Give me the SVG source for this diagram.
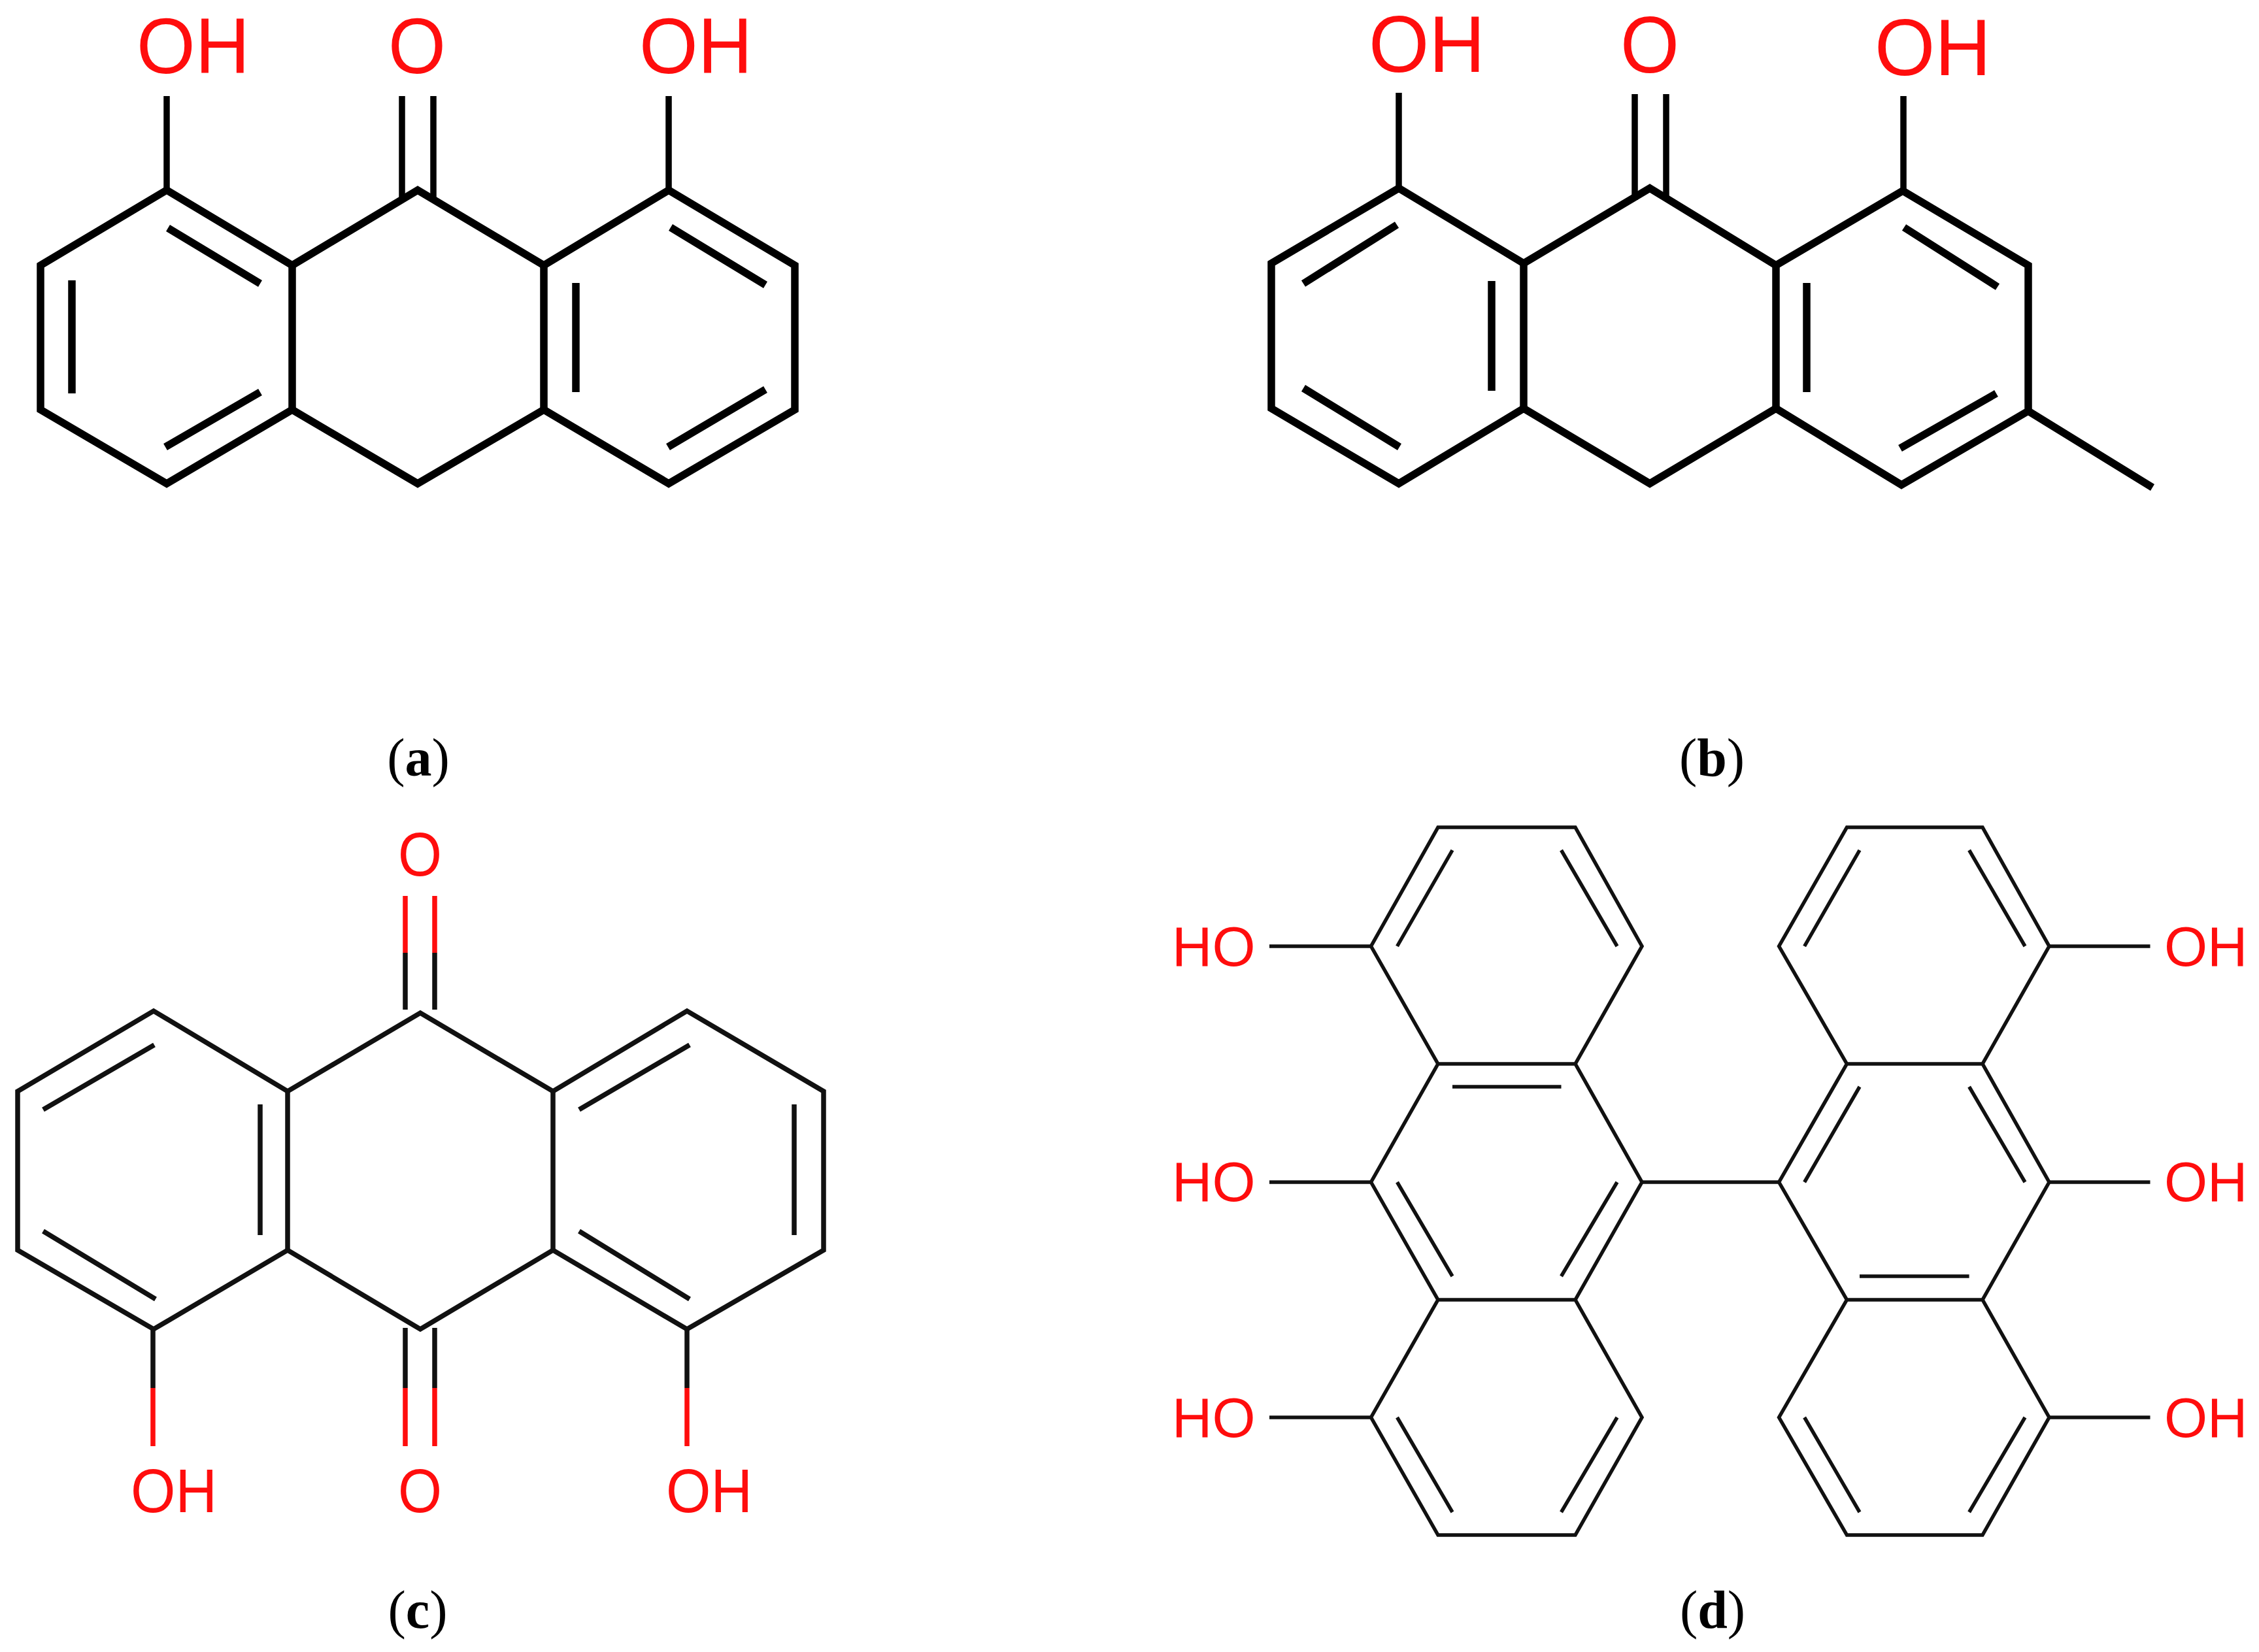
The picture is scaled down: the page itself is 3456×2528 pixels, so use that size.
<svg xmlns="http://www.w3.org/2000/svg" width="3456" height="2528" viewBox="0 0 3456 2528">
<style>
.b{fill:none;stroke:#000;stroke-linejoin:miter;stroke-linecap:butt}
.t{stroke-width:11.5}
.m{stroke-width:7.5;stroke:#111}
.s{stroke-width:5.5;stroke:#111}
.r{stroke:#ff0d0d}
.l{fill:#ff0d0d;font-family:"Liberation Sans",Arial,sans-serif}
.c{font-family:"Liberation Serif","Times New Roman",serif;font-size:82px;fill:#000;text-anchor:middle}
.c tspan{font-weight:bold}
</style>
<rect width="3456" height="2528" fill="#fff"/>
<g id="connectors">
<g id="bonds-a" class="b t">
<path d="M62 406L255 291L447 406L639 291L832 406L1023 291L1216 406V627L1023 740L832 627L639 740L447 627L255 740L62 627Z"/>
<path d="M447 406V627M832 406V627"/>
<path d="M110 429V602M257 349L398 434M398 600L253 684M881 433V600M1026 348L1171 436M1171 596L1022 684"/>
<path style="stroke-width:9.500" d="M255 147V291M1023 147V291M615 147V306M663 147V306"/>
</g>
<g id="bonds-b" class="b t">
<path d="M1945 403L2140 288L2331 403L2524 288L2717 406L2911 292L3103 406V629L2909 742L2717 625L2524 740L2331 625L2140 740L1945 625Z"/>
<path d="M2331 403V625M2717 406V625M3103 629L3293 746"/>
<path d="M2137 344L1994 434M2282 430V598M1994 594L2141 684M2764 433V600M2913 348L3056 439M3054 602L2907 686"/>
<path style="stroke-width:9.500" d="M2140 142V288M2912 147V292M2501 144V306M2549 144V306"/>
</g>
<g id="bonds-c" class="b m">
<path d="M27 1670L235 1547L440 1670L643 1550L846 1670L1051 1547L1260 1670V1913L1051 2034L846 1913L643 2034L440 1913L235 2034L27 1913Z"/>
<path d="M440 1670V1913M846 1670V1913"/>
<path d="M236 1599L66 1698M398 1690V1890M66 1884L238 1988M1055 1599L886 1698M886 1884L1055 1988M1215 1690V1890"/>
<path d="M620 1458V1545M665 1458V1545M620 2032V2124M665 2032V2124M234 2034V2124M1051 2034V2124"/>
<path class="r" d="M620 1371V1458M665 1371V1458M620 2124V2213M665 2124V2213M234 2124V2213M1051 2124V2213"/>
</g>
<g id="bonds-d" class="b s">
<path d="M2200 1266H2410L2512 1448L2410 1628H2200L2097.500 1448ZM2200 1628H2410L2512 1809L2410 1989H2200L2097.500 1809ZM2200 1989H2410L2512 2169L2410 2349H2200L2097.500 2169Z"/>
<path d="M2825.500 1266H3033L3135 1448L3033 1628H2825.500L2721.600 1448ZM2825.500 1628H3033L3135 1809L3033 1989H2825.500L2721.600 1809ZM2825.500 1989H3033L3135 2169L3033 2349H2825.500L2721.600 2169Z"/>
<path d="M2222 1301L2137.500 1448M2388.500 1301L2474 1448M2222 1663H2388.500M2137.500 1809L2222 1953M2474 1809L2388.500 1953M2137.500 2169L2222 2314M2474 2169L2388.500 2314"/>
<path d="M2845 1301L2760.600 1448M3012.600 1301L3098 1448M2845 1663L2760.600 1809M3012.600 1663L3098 1809M2845 1953H3012.600M2760.600 2169L2845 2314M3098 2169L3012.600 2314"/>
<path d="M2512 1809H2721.600M1942 1448H2097.500M1942 1809H2097.500M1942 2169H2097.500M3135 1448H3289.500M3135 1809H3289.500M3135 2169H3289.500"/>
</g>
</g>
<g id="a-oh1"><text class="l" x="209" y="112" font-size="120" textLength="173" lengthAdjust="spacingAndGlyphs">OH</text></g>
<g id="a-o"><text class="l" x="594" y="112" font-size="120" textLength="88" lengthAdjust="spacingAndGlyphs">O</text></g>
<g id="a-oh2"><text class="l" x="978" y="112" font-size="120" textLength="173" lengthAdjust="spacingAndGlyphs">OH</text></g>
<g id="b-oh1"><text class="l" x="2094" y="110" font-size="122" textLength="178" lengthAdjust="spacingAndGlyphs">OH</text></g>
<g id="b-o"><text class="l" x="2479" y="111" font-size="122" textLength="90" lengthAdjust="spacingAndGlyphs">O</text></g>
<g id="b-oh2"><text class="l" x="2868" y="115" font-size="122" textLength="178" lengthAdjust="spacingAndGlyphs">OH</text></g>
<g id="c-o1"><text class="l" x="609" y="1340" font-size="94" textLength="67" lengthAdjust="spacingAndGlyphs">O</text></g>
<g id="c-oh1"><text class="l" x="200" y="2314" font-size="94" textLength="132" lengthAdjust="spacingAndGlyphs">OH</text></g>
<g id="c-o2"><text class="l" x="609" y="2314" font-size="94" textLength="67" lengthAdjust="spacingAndGlyphs">O</text></g>
<g id="c-oh2"><text class="l" x="1019" y="2314" font-size="94" textLength="132" lengthAdjust="spacingAndGlyphs">OH</text></g>
<g id="d-ho1"><text class="l" x="1793" y="1478" font-size="85">HO</text></g>
<g id="d-ho2"><text class="l" x="1793" y="1838" font-size="85">HO</text></g>
<g id="d-ho3"><text class="l" x="1793" y="2199" font-size="85">HO</text></g>
<g id="d-oh1"><text class="l" x="3311" y="1478" font-size="85">OH</text></g>
<g id="d-oh2"><text class="l" x="3311" y="1838" font-size="85">OH</text></g>
<g id="d-oh3"><text class="l" x="3311" y="2199" font-size="85">OH</text></g>
<g id="cap-a"><text class="c" x="640" y="1187">(<tspan>a</tspan>)</text></g>
<g id="cap-b"><text class="c" x="2619" y="1187">(<tspan>b</tspan>)</text></g>
<g id="cap-c"><text class="c" x="639" y="2491">(<tspan>c</tspan>)</text></g>
<g id="cap-d"><text class="c" x="2620" y="2491">(<tspan>d</tspan>)</text></g>
</svg>
